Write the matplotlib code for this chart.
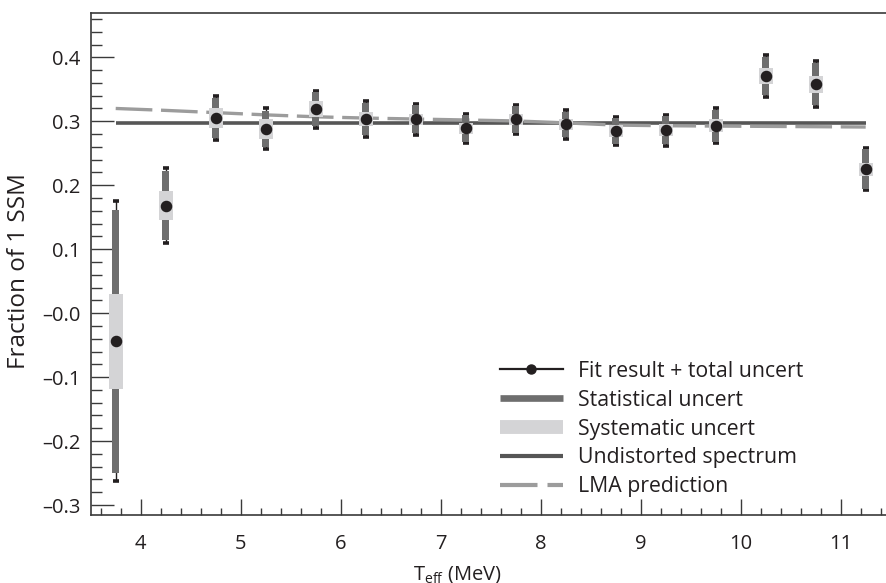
import matplotlib
matplotlib.use('Agg')
import matplotlib.pyplot as plt
from matplotlib.lines import Line2D
from matplotlib.ticker import MultipleLocator, FixedLocator, FixedFormatter

plt.rcParams['font.family'] = ['Open Sans', 'DejaVu Sans']

# ---------------- data ----------------
energy = [3.75, 4.25, 4.75, 5.25, 5.75, 6.25, 6.75, 7.25,
          7.75, 8.25, 8.75, 9.25, 9.75, 10.25, 10.75, 11.25]
fraction = [-0.044, 0.168, 0.305, 0.288, 0.319, 0.303, 0.303, 0.289,
            0.303, 0.295, 0.285, 0.286, 0.293, 0.371, 0.358, 0.225]
stat_err = [0.206, 0.054, 0.031, 0.028, 0.026, 0.025, 0.022, 0.021,
            0.021, 0.020, 0.020, 0.022, 0.025, 0.030, 0.033, 0.031]
syst_err = [0.074, 0.023, 0.015, 0.016, 0.0125, 0.011, 0.009, 0.009,
            0.009, 0.009, 0.009, 0.009, 0.010, 0.012, 0.0135, 0.010]
total_err = [0.219, 0.059, 0.034, 0.032, 0.029, 0.028, 0.0245, 0.023,
             0.023, 0.022, 0.022, 0.024, 0.027, 0.0325, 0.036, 0.033]
undistorted_level = 0.298
lma_prediction = [0.320, 0.317, 0.3135, 0.310, 0.307, 0.305, 0.3035, 0.302,
                  0.3005, 0.2975, 0.294, 0.293, 0.2925, 0.292, 0.2915, 0.291]

ytick_values = [-0.3, -0.2, -0.1, 0.0, 0.1, 0.2, 0.3, 0.4]
ytick_labels = ['\u20130.3', '\u20130.2', '\u20130.1', '\u20130.0', '0.1', '0.2', '0.3', '0.4']
xtick_values = [4, 5, 6, 7, 8, 9, 10, 11]
xtick_labels = ['4', '5', '6', '7', '8', '9', '10', '11']
legend_labels = ['Fit result + total uncert', 'Statistical uncert', 'Systematic uncert',
                 'Undistorted spectrum', 'LMA prediction']

# ---------------- style ----------------
c_point = '#231f20'
c_stat = '#6e6e6e'
c_syst = '#d4d4d6'
c_undist = '#565656'
c_lma = '#9c9c9c'
c_axis = '#3a3a3a'

W, H = 887, 583
fig = plt.figure(figsize=(W / 100, H / 100), dpi=100)
ax = fig.add_axes([90.7 / W, 68 / H, 800 / W, 501.7 / H])

# lines
ax.hlines(undistorted_level, energy[0], energy[-1], color=c_undist, lw=2.6, zorder=1)
ax.plot(energy, lma_prediction, color=c_lma, lw=2.4, dashes=(11, 2.6), zorder=1.2)

# total error (thin black + caps)
ax.errorbar(energy, fraction, yerr=total_err, fmt='none', ecolor=c_point,
            elinewidth=1.0, capsize=2.2, capthick=2.6, zorder=2)
# statistical bars
ax.bar(energy, [2 * s for s in stat_err], bottom=[y - s for y, s in zip(fraction, stat_err)],
       width=0.066, color=c_stat, linewidth=0, zorder=3)
# systematic boxes
ax.bar(energy, [2 * s for s in syst_err], bottom=[y - s for y, s in zip(fraction, syst_err)],
       width=0.14, color=c_syst, linewidth=0, zorder=4)
# central values
ax.plot(energy, fraction, 'o', ms=7.3, color=c_point, zorder=5, linestyle='none')

ax.set_xlim(3.5, 11.5)
ax.set_ylim(-0.3156, 0.4688)

ax.yaxis.set_major_locator(FixedLocator(ytick_values))
ax.yaxis.set_major_formatter(FixedFormatter(ytick_labels))
ax.yaxis.set_minor_locator(MultipleLocator(0.02))
ax.xaxis.set_major_locator(FixedLocator(xtick_values))
ax.xaxis.set_major_formatter(FixedFormatter(xtick_labels))
ax.xaxis.set_minor_locator(MultipleLocator(0.2))

ax.tick_params(axis='y', which='major', direction='in', length=16.3, width=1.0,
               color=c_axis, pad=7.5, labelsize=14.5, labelcolor=c_point)
ax.tick_params(axis='y', which='minor', direction='in', length=7.9, width=1.0, color=c_axis)
ax.tick_params(axis='x', which='major', direction='in', length=11.3, width=1.0,
               color=c_axis, pad=14, labelsize=14.5, labelcolor=c_point)
ax.tick_params(axis='x', which='minor', direction='in', length=5.3, width=1.0, color=c_axis)

for side in ['left', 'bottom', 'top']:
    ax.spines[side].set_color(c_axis)
    ax.spines[side].set_linewidth(1.2)
ax.spines['right'].set_visible(False)

ax.set_ylabel('Fraction of 1 SSM', fontsize=17.5, color=c_point)
ax.yaxis.set_label_coords(-0.075, 0.487)
ax.set_xlabel(r'T$_{\mathregular{eff}}$ (MeV)', fontsize=14.5, color=c_point)
ax.xaxis.set_label_coords(0.459, -0.097)

handles = [
    Line2D([0], [0], color=c_point, lw=1.6, marker='o', ms=6.5),
    Line2D([0], [0], color=c_stat, lw=4.8, solid_capstyle='butt'),
    Line2D([0], [0], color=c_syst, lw=10, solid_capstyle='butt'),
    Line2D([0], [0], color=c_undist, lw=3.0, solid_capstyle='butt'),
    Line2D([0], [0], color=c_lma, lw=3.0, dashes=(9, 2.4)),
]
leg = fig.legend(handles, legend_labels, loc='center left',
                 bbox_to_anchor=(500 / W, (H - 429) / H), frameon=False,
                 fontsize=15.3, handlelength=2.95, handletextpad=0.7,
                 borderpad=0, borderaxespad=0, labelspacing=0.37)
for t in leg.get_texts():
    t.set_color(c_point)

fig.savefig('out.png', dpi=100)
